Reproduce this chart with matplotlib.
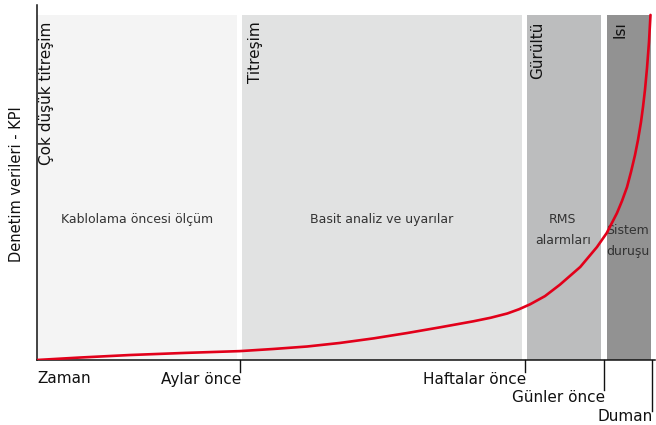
import matplotlib.pyplot as plt

plt.rcParams['font.family'] = ['DejaVu Sans']

# KPI curve over time (0 = start, 100 = failure)
time_pts = [0, 7.0, 15.0, 24.0, 32.8, 38.2, 43.7, 49.0, 54.5, 59.9,
            65.2, 70.6, 73.4, 76.1, 78.0, 79.8, 82.2, 84.6, 87.9, 90.6,
            92.2, 93.85, 94.66, 95.47, 96.12, 96.76, 97.25, 97.73, 98.06,
            98.38, 98.71, 99.03, 99.27]
kpi_pts = [0, 0.7, 1.4, 2.0, 2.5, 3.1, 3.8, 4.8, 6.1, 7.6,
           9.2, 10.9, 11.9, 13.1, 14.3, 15.7, 18.0, 21.2, 26.2, 31.8,
           35.8, 41.4, 44.8, 48.7, 53.0, 57.7, 62.0, 67.0, 71.3,
           76.1, 82.3, 89.6, 97.2]

# stage bands: start, end
band_start = [0, 33.2, 79.3, 92.2]
band_end = [32.4, 78.5, 91.3, 99.4]
band_colors = ['#f4f4f4', '#e1e2e2', '#bcbdbe', '#929292']
band_titles = ['Çok düşük titreşim', 'Titreşim', 'Gürültü', 'Isı']
band_notes = ['Kablolama öncesi ölçüm', 'Basit analiz ve uyarılar',
              'RMS\nalarmları', 'Sistem\nduruşu']

tick_pos = [32.8, 79.0, 91.7, 99.5]
tick_labels = ['Aylar önce', 'Haftalar önce', 'Günler önce', 'Duman']

fig = plt.figure(figsize=(6.56, 4.25), dpi=100)
ax = fig.add_axes([37 / 656, 65 / 425, 618 / 656, 355 / 425])
ax.set_xlim(0, 100)
ax.set_ylim(0, 100)

band_top = 97.2
for s, e, c in zip(band_start, band_end, band_colors):
    ax.fill_between([s, e], 0, band_top, color=c, lw=0, zorder=0)

# band headings, rotated, hanging from the top
title_x = [1.6, 35.4, 81.0, 94.4]
for x, t in zip(title_x, band_titles):
    ax.text(x, 95.3, t, rotation=90, ha='center', va='top', fontsize=11,
            color='#111111')

note_x = [16.2, 55.8, 85.1, 95.6]
note_y = [39.5, 39.5, 36.5, 33.5]
for x, y, t in zip(note_x, note_y, band_notes):
    ax.text(x, y, t, ha='center', va='center', fontsize=9,
            color='#333333', linespacing=1.8)

ax.plot(time_pts, kpi_pts, color='#e2001a', lw=1.9, zorder=3,
        solid_capstyle='round', solid_joinstyle='round')

for s in ['top', 'right']:
    ax.spines[s].set_visible(False)
for s in ['left', 'bottom']:
    ax.spines[s].set_linewidth(1.1)
    ax.spines[s].set_color('#111111')
ax.set_xticks([])
ax.set_yticks([])

fig.text(17 / 656, (425 - 184) / 425, 'Denetim verileri - KPI', rotation=90,
         ha='center', va='center', fontsize=10.5, color='#111111')

# time markers below the axis with staggered labels
trans = ax.get_xaxis_transform()
tick_len = [0.034, 0.034, 0.085, 0.144]
label_y = [-0.056, -0.056, -0.107, -0.158]
for x, ln, ly, t in zip(tick_pos, tick_len, label_y, tick_labels):
    ax.plot([x, x], [0, -ln], color='#111111', lw=1.0, transform=trans,
            clip_on=False)
    ax.text(x + 0.2, ly, t, ha='right', va='center', fontsize=11,
            color='#111111', transform=trans)
ax.text(0, -0.051, 'Zaman', ha='left', va='center', fontsize=11,
        color='#111111', transform=trans)

fig.savefig('out.png', dpi=100)
